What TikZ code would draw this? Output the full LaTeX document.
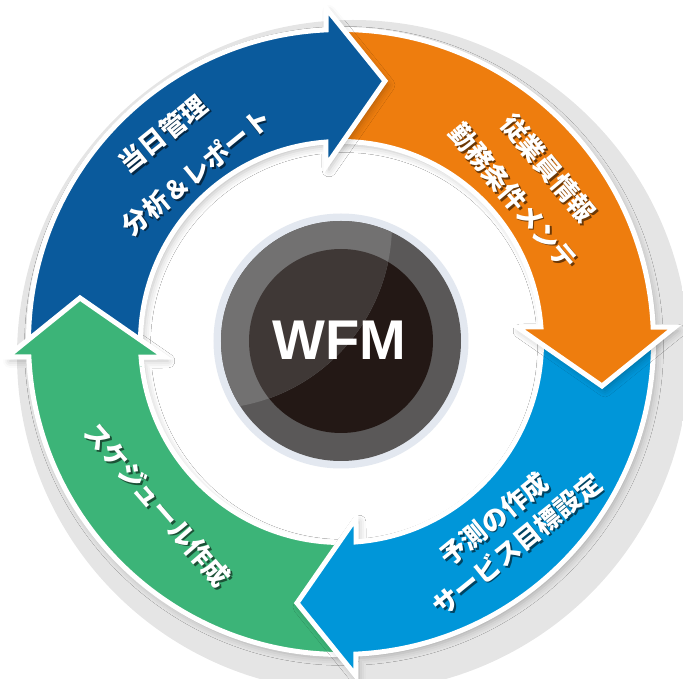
\documentclass[tikz,border=0pt]{standalone}
\usepackage{fontspec}
\setmainfont{Liberation Sans}
\newfontfamily\jpfont{Noto Sans CJK JP}
\usetikzlibrary{shadows.blur}
\definecolor{wfmblue}{HTML}{0A5A9C}
\definecolor{wfmorange}{HTML}{EE7D0E}
\definecolor{wfmsky}{HTML}{0096D9}
\definecolor{wfmgreen}{HTML}{3CB478}
\definecolor{ringedge}{HTML}{E3E8F0}
\definecolor{ringgray}{HTML}{5A5858}
\definecolor{ringlight}{HTML}{727171}
\definecolor{coredark}{HTML}{231815}
\definecolor{corelight}{HTML}{3F3836}
\pgfdeclareradialshading{outerglow}{\pgfpointorigin}{color(0bp)=(black!10); color(44bp)=(black!10); color(50bp)=(white)}
\pgfdeclareradialshading{innerwell}{\pgfpointorigin}{color(0bp)=(white); color(37bp)=(white); color(50bp)=(black!25)}

\begin{document}
\begin{tikzpicture}[x=1pt, y=1pt,
    band/.style={draw=white, line width=5pt, line join=miter},
    bandshadow/.style={blur shadow={shadow xshift=3pt, shadow yshift=-4pt, shadow opacity=25, shadow blur radius=7pt}},
    lbl/.style={text=white, font=\jpfont\bfseries\fontsize{26}{26}\selectfont, inner sep=0pt},
    lblshadow/.style={lbl, text=black, opacity=0.55, xshift=1.8pt, yshift=-1.8pt}]
  \useasboundingbox (-341,-337) rectangle (342,342);
  \shade[shading=outerglow] (12,-14) circle (336);
  \shade[shading=innerwell] (0,0) circle (200);

  % four arrows round the ring
  \foreach \a/\col in {90/wfmgreen, 180/wfmsky, 270/wfmorange, 0/wfmblue}
    \path[band, bandshadow, fill=\col]
      (\a+181.5:312.5) arc[start angle=\a+181.5, end angle=\a+92.75, radius=312.5]
      -- (\a+92.57:334.3) -- (\a+80.43:264.7) -- (\a+94.87:176.6)
      -- (\a+94.3:200.5) arc[start angle=\a+94.3, end angle=\a+181.5, radius=200.5] -- cycle;
  % green head again, over the start of the blue one
  \path[band, fill=wfmgreen]
    (187:312.5) arc[start angle=187, end angle=182.75, radius=312.5]
    -- (182.57:334.3) -- (170.43:264.7) -- (184.87:176.6)
    -- (184.3:200.5) arc[start angle=184.3, end angle=187, radius=200.5];

  % labels
  \foreach \ang/\rad/\rot/\txt/\nm in {130.55/274.1/39/当日管理/kanri,
      130.4/223.3/39/分析＆レポート/bunseki,
      39.96/270.5/-50/従業員情報/jugyoin, 40.1/225.4/-50/勤務条件メンテ/kinmu,
      -49.2/234.2/39/予測の作成/yosoku, -49.0/268.5/39/サービス目標設定/service,
      221.6/244.9/-49/スケジュール作成/schedule} {
    \node[lblshadow, rotate=\rot] (\nm-s) at (\ang:\rad) {\txt};
    \node[lbl, rotate=\rot] (\nm) at (\ang:\rad) {\txt};
  }

  % centre
  \fill[ringedge] (0,1) circle (127.5);
  \fill[ringgray] (0,1) circle (120);
  \fill[coredark] (0,1) circle (92);
  \begin{scope}
    \clip (-134,118) circle (185);
    \fill[ringlight] (0,1) circle (120);
    \fill[corelight] (0,1) circle (92);
  \end{scope}
  \node[text=white, font=\bfseries\fontsize{56}{56}\selectfont] (wfm) at (-2,2) {WFM};
\end{tikzpicture}
\end{document}
